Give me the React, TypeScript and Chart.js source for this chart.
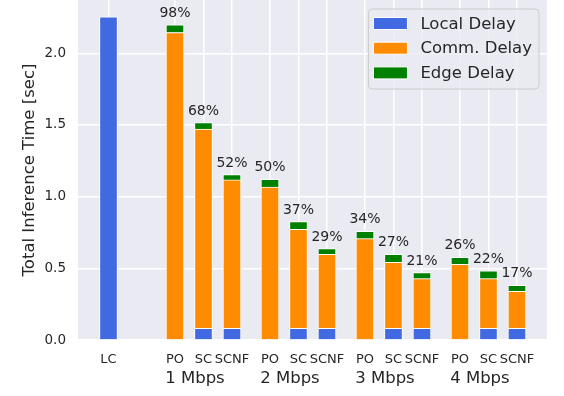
import React, { useEffect, useRef } from 'react';
import { Chart, registerables } from 'chart.js';
Chart.register(...registerables);

const groupLabels = ['1 Mbps', '2 Mbps', '3 Mbps', '4 Mbps'];
const barLabels = ['LC', 'PO', 'SC', 'SCNF', 'PO', 'SC', 'SCNF', 'PO', 'SC', 'SCNF', 'PO', 'SC', 'SCNF'];
const localDelay = [2.254, 0, 0.082, 0.082, 0, 0.082, 0.082, 0, 0.082, 0.082, 0, 0.082, 0.082];
const commDelay = [0, 2.145, 1.39, 1.035, 1.066, 0.69, 0.516, 0.707, 0.46, 0.346, 0.528, 0.346, 0.258];
const edgeDelay = [0, 0.053, 0.045, 0.037, 0.055, 0.054, 0.039, 0.051, 0.056, 0.042, 0.049, 0.054, 0.042];
const pctLabels = ['', '98%', '68%', '52%', '50%', '37%', '29%', '34%', '27%', '21%', '26%', '22%', '17%'];
const yTicks = [0, 0.5, 1.0, 1.5, 2.0];

// x layout in axis units: LC at 0, then groups of 3 spaced by 10 units
const xPos = barLabels.map((_, i) => (i === 0 ? 0 : 7 + 10 * Math.floor((i - 1) / 3) + 3 * ((i - 1) % 3)));
const groupCenter = groupLabels.map((_, g) => 7 + 10 * g + 2.1);

const FONT = 'DejaVu Sans';
const TEXT = '#262626';
const COLORS = ['#4169E1', '#FF8C00', '#008000'];

const bgPlugin = {
  id: 'bg',
  beforeDraw(chart: any) {
    const { ctx, chartArea: a } = chart;
    ctx.save();
    ctx.fillStyle = '#EAEAF2';
    ctx.fillRect(a.left, a.top, a.right - a.left, a.bottom - a.top);
    ctx.restore();
  },
};

const labelPlugin = {
  id: 'labels',
  afterDraw(chart: any) {
    const { ctx, chartArea: a } = chart;
    const xs = chart.scales.x;
    const ys = chart.scales.y;
    ctx.save();
    ctx.fillStyle = TEXT;
    // percentage labels
    ctx.font = `14px "${FONT}"`;
    ctx.textAlign = 'center';
    ctx.textBaseline = 'alphabetic';
    pctLabels.forEach((t, i) => {
      if (!t) return;
      const total = localDelay[i] + commDelay[i] + edgeDelay[i];
      ctx.fillText(t, xs.getPixelForValue(xPos[i]), ys.getPixelForValue(total) - 8);
    });
    // group labels
    ctx.font = `16.5px "${FONT}"`;
    groupLabels.forEach((t, g) => {
      ctx.fillText(t, xs.getPixelForValue(groupCenter[g]), a.bottom + 43);
    });
    // legend
    const names = chart.data.datasets.map((d: any) => d.label);
    ctx.font = `16.5px "${FONT}"`;
    const tw = Math.max(...names.map((n: string) => ctx.measureText(n).width));
    const w = 52 + tw + 7;
    const h = 80;
    const x0 = a.right - 8 - w;
    const y0 = a.top + 9;
    ctx.beginPath();
    ctx.roundRect(x0, y0, w, h, 4);
    ctx.fillStyle = 'rgba(234,234,242,0.8)';
    ctx.fill();
    ctx.strokeStyle = '#CCCCCC';
    ctx.lineWidth = 1;
    ctx.stroke();
    ctx.textAlign = 'left';
    ctx.textBaseline = 'middle';
    names.forEach((n: string, i: number) => {
      const cy = y0 + 14.5 + i * 24.7;
      ctx.fillStyle = chart.data.datasets[i].backgroundColor;
      ctx.fillRect(x0 + 5, cy - 6, 34, 12);
      ctx.strokeStyle = '#FFFFFF';
      ctx.strokeRect(x0 + 5, cy - 6, 34, 12);
      ctx.fillStyle = TEXT;
      ctx.fillText(n, x0 + 52, cy + 1);
    });
    ctx.restore();
  },
};

export default function App() {
  const ref = useRef<HTMLCanvasElement>(null);
  useEffect(() => {
    if (!ref.current) return;
    const mk = (label: string, vals: number[], c: string) => ({
      label,
      data: vals.map((v, i) => ({ x: xPos[i], y: v })),
      backgroundColor: c,
      borderColor: '#FFFFFF',
      borderWidth: 1,
      barThickness: 18,
    });
    const chart = new Chart(ref.current, {
      type: 'bar',
      data: {
        datasets: [
          mk('Local Delay', localDelay, COLORS[0]),
          mk('Comm. Delay', commDelay, COLORS[1]),
          mk('Edge Delay', edgeDelay, COLORS[2]),
        ],
      },
      options: {
        animation: false,
        responsive: false,
        layout: { padding: { left: 0, right: 17, top: 0, bottom: 0 } },
        plugins: { legend: { display: false }, tooltip: { enabled: false } },
        scales: {
          x: {
            type: 'linear',
            stacked: true,
            offset: false,
            min: -3.21,
            max: 46.16,
            border: { display: false },
            grid: { color: '#FFFFFF', lineWidth: 1.5, drawTicks: false, offset: false },
            afterBuildTicks: (s: any) => {
              s.ticks = xPos.map((v) => ({ value: v }));
            },
            afterFit: (s: any) => {
              s.height = 56;
              s.paddingLeft = 0;
              s.paddingRight = 0;
            },
            ticks: {
              autoSkip: false,
              maxRotation: 0,
              padding: 12,
              color: TEXT,
              font: { family: FONT, size: 13 },
              callback: (_v: any, i: number) => barLabels[i],
            },
          },
          y: {
            stacked: true,
            min: 0,
            max: 2.372,
            border: { display: false },
            grid: { color: '#FFFFFF', lineWidth: 1.5, drawTicks: false },
            afterBuildTicks: (s: any) => {
              s.ticks = yTicks.map((v) => ({ value: v }));
            },
            afterFit: (s: any) => {
              s.width = 78;
              s.paddingTop = 0;
              s.paddingBottom = 0;
            },
            ticks: {
              padding: 12,
              color: TEXT,
              font: { family: FONT, size: 13.5 },
              callback: (v: any) => Number(v).toFixed(1),
            },
            title: {
              display: true,
              text: 'Total Inference Time [sec]',
              color: TEXT,
              font: { family: FONT, size: 16.5 },
              padding: { top: 20, bottom: 0 },
            },
          },
        },
      },
      plugins: [bgPlugin, labelPlugin],
    } as any);
    return () => chart.destroy();
  }, []);
  return (
    <div style={{ position: 'fixed', left: 0, top: 0, width: 564, height: 396, background: '#fff' }}>
      <canvas ref={ref} width={564} height={396} style={{ display: 'block' }} />
    </div>
  );
}
